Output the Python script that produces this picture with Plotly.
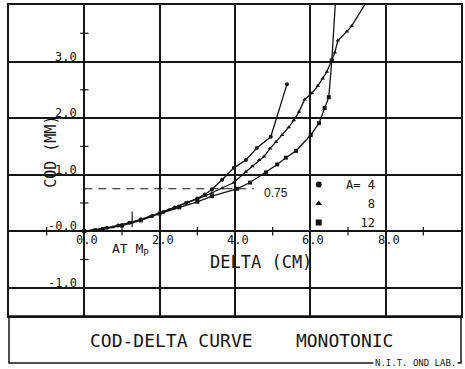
import plotly.graph_objects as go

# ---------------- data ----------------
A4_DELTA = [0, 0.3, 0.6, 0.9, 1.2, 1.5, 1.8, 2.1, 2.4, 2.7, 3.0, 3.2, 3.39, 3.66, 3.97, 4.29, 4.58, 4.95, 5.38]
A4_COD   = [0, 0.02, 0.06, 0.10, 0.15, 0.21, 0.27, 0.34, 0.42, 0.50, 0.58, 0.65, 0.74, 0.91, 1.12, 1.26, 1.47, 1.67, 2.60]

A8_DELTA = [0, 0.25, 0.5, 0.75, 1.0, 1.25, 1.5, 1.75, 2.0, 2.25, 2.5, 2.75, 3.0, 3.2, 3.39, 3.66, 3.97,
            4.29, 4.46, 4.64, 4.77, 4.93, 5.09, 5.25, 5.43, 5.56, 5.70, 5.85, 6.04, 6.20, 6.33, 6.44,
            6.65, 6.73, 6.97, 7.10, 7.55]
A8_COD   = [0, 0.02, 0.04, 0.07, 0.11, 0.15, 0.20, 0.26, 0.32, 0.38, 0.44, 0.51, 0.57, 0.62, 0.68, 0.76, 0.86,
            1.05, 1.15, 1.26, 1.32, 1.46, 1.58, 1.70, 1.84, 1.96, 2.11, 2.33, 2.44, 2.57, 2.70, 2.82,
            3.16, 3.37, 3.53, 3.63, 4.12]

A12_DELTA = [0, 0.5, 1.0, 1.5, 2.0, 2.52, 3.0, 3.39, 4.05, 4.4, 4.82, 5.12, 5.35, 5.62, 6.01, 6.23, 6.38, 6.49, 6.57, 6.68]
A12_COD   = [0, 0.04, 0.10, 0.19, 0.31, 0.42, 0.52, 0.62, 0.75, 0.86, 1.04, 1.18, 1.30, 1.42, 1.70, 1.91, 2.18, 2.37, 3.02, 4.20]

NB = "\u00a0"
SERIES_NAMES = [NB + "A=" + NB + "4", NB * 4 + "8", NB * 3 + "12"]

REF_COD = 0.75          # dashed reference level
REF_DELTA_END = 4.5
MP_DELTA = 1.27         # "AT Mp" marker
MP_COD_RANGE = [0.07, 0.35]

X_TICKS = [0, 2, 4, 6, 8]
X_TICK_LABELS = ["0.0", "2.0", "4.0", "6.0", "8.0"]
Y_TICKS = [3, 2, 1, 0, -1]
Y_TICK_LABELS = ["3.0", "2.0", "1.0", "-0.0", "-1.0"]
X_MINOR = [-1, 1, 3, 5, 7, 9]
Y_MINOR = [-0.5, 0.5, 1.5, 2.5, 3.5]

INK = "#151515"
MONO = "DejaVu Sans Mono"

fig = go.Figure()

curves = [(A4_DELTA, A4_COD, "circle"), (A8_DELTA, A8_COD, "triangle-up"), (A12_DELTA, A12_COD, "square")]
for (xs, ys, sym), name in zip(curves, SERIES_NAMES):
    fig.add_trace(go.Scatter(x=xs, y=ys, mode="lines+markers", showlegend=False,
                             line=dict(color=INK, width=1.3),
                             marker=dict(symbol=sym, size=4, color=INK)))
for (xs, ys, sym), name in zip(curves, SERIES_NAMES):
    fig.add_trace(go.Scatter(x=[None], y=[None], mode="markers", name=name, showlegend=True,
                             marker=dict(symbol=sym, size=6, color=INK)))

# dashed reference line at COD = 0.75
fig.add_trace(go.Scatter(x=[0, REF_DELTA_END], y=[REF_COD, REF_COD], mode="lines", showlegend=False,
                         line=dict(color=INK, width=1.2, dash="8px,6px")))
# Mp mark
fig.add_trace(go.Scatter(x=[MP_DELTA, MP_DELTA], y=MP_COD_RANGE, mode="lines", showlegend=False,
                         line=dict(color=INK, width=1.2)))
# minor ticks on the zero lines
fig.add_trace(go.Scatter(x=X_MINOR, y=[0] * len(X_MINOR), mode="markers", showlegend=False,
                         marker=dict(symbol="line-ns", size=6, line=dict(color=INK, width=1.2))))
fig.add_trace(go.Scatter(x=[0] * len(Y_MINOR), y=Y_MINOR, mode="markers", showlegend=False,
                         marker=dict(symbol="line-ew", size=6, line=dict(color=INK, width=1.2))))

Y_DOMAIN_LOW = 0.1313

annotations = []
for v, t in zip(X_TICKS, X_TICK_LABELS):
    annotations.append(dict(x=v, y=0, xref="x", yref="y", text=t, showarrow=False,
                            xanchor="center", yanchor="middle", xshift=3, yshift=-9,
                            font=dict(family=MONO, size=12, color=INK)))
for v, t in zip(Y_TICKS, Y_TICK_LABELS):
    annotations.append(dict(x=0, y=v, xref="x", yref="y", text=t, showarrow=False,
                            xanchor="right", yanchor="middle", xshift=-5, yshift=5,
                            font=dict(family=MONO, size=12, color=INK)))
annotations += [
    dict(x=4.69, y=-0.55, xref="x", yref="y", text="DELTA (CM)", showarrow=False,
         font=dict(family=MONO, size=17, color=INK)),
    dict(x=-0.89, y=1.4, xref="x", yref="y", text="COD (MM)", textangle=-90, showarrow=False,
         font=dict(family=MONO, size=15, color=INK)),
    dict(x=0.67, y=-0.33, xref="x", yref="y", text="AT M<sub>P</sub>", showarrow=False,
         xanchor="left", font=dict(family=MONO, size=13, color=INK)),
    dict(x=5.08, y=0.67, xref="x", yref="y", text="0.75", showarrow=False,
         font=dict(family="Liberation Sans", size=12, color=INK)),
    dict(x=0.514, y=0.064, xref="paper", yref="paper",
         text="COD-DELTA CURVE" + NB * 4 + "MONOTONIC", showarrow=False,
         xanchor="center", yanchor="middle",
         font=dict(family=MONO, size=18, color=INK)),
    dict(x=0.9, y=0, xref="paper", yref="paper", text="N.I.T." + NB + "OND" + NB + "LAB.",
         showarrow=False, xanchor="center", yanchor="middle",
         bgcolor="white", borderpad=1, font=dict(family=MONO, size=9, color=INK)),
]

fig.update_layout(
    width=465, height=369,
    margin=dict(l=9, r=2, t=5, b=6),
    paper_bgcolor="white", plot_bgcolor="white",
    xaxis=dict(range=[-2, 10], tick0=0, dtick=2, showgrid=True, gridcolor=INK, gridwidth=1.5,
               zeroline=True, zerolinecolor=INK, zerolinewidth=1.5,
               showline=True, mirror=True, linecolor=INK, linewidth=1.5,
               showticklabels=False, ticks=""),
    yaxis=dict(range=[-1.5, 4], tick0=0, dtick=1, domain=[Y_DOMAIN_LOW, 1],
               showgrid=True, gridcolor=INK, gridwidth=1.5,
               zeroline=True, zerolinecolor=INK, zerolinewidth=1.5,
               showline=True, mirror=True, linecolor=INK, linewidth=1.5,
               showticklabels=False, ticks=""),
    legend=dict(x=0.641, y=0.539, xanchor="left", yanchor="top", bgcolor="rgba(0,0,0,0)",
                font=dict(family=MONO, size=12, color=INK), itemwidth=30, tracegroupgap=0),
    shapes=[dict(type="rect", xref="paper", yref="paper", x0=0, x1=1, y0=0, y1=Y_DOMAIN_LOW,
                 line=dict(color=INK, width=1.5))],
    annotations=annotations,
)

fig.write_html("out.html", config={"displayModeBar": False},
               post_script="document.body.style.margin='0px';")
